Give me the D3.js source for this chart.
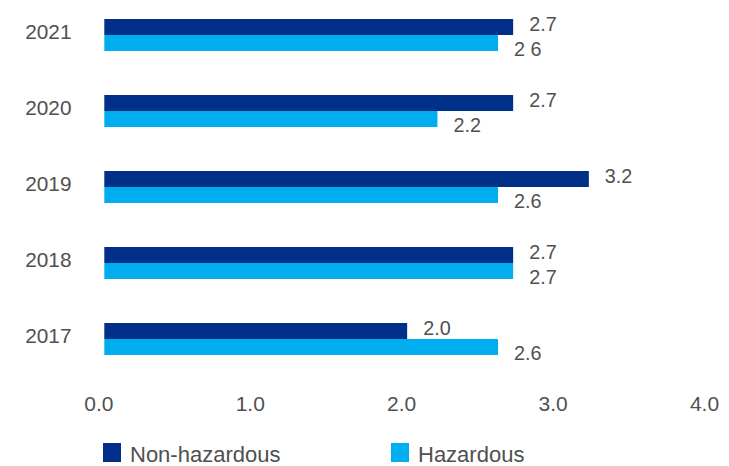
<!DOCTYPE html>
<html>
<head>
<meta charset="utf-8">
<script src="https://cdn.jsdelivr.net/npm/d3@7/dist/d3.min.js"></script>
<style>
  html, body { margin: 0; padding: 0; background: #fff; }
  svg { display: block; font-family: "Liberation Sans", Arial, Helvetica, sans-serif; }
</style>
</head>
<body>
<svg id="chart" width="729" height="466"></svg>
<script>
// Waste generated per year, by type
const years = ["2021", "2020", "2019", "2018", "2017"];
const seriesNames = ["Non-hazardous", "Hazardous"];
const nonHazardous = [2.7, 2.7, 3.2, 2.7, 2.0];
const hazardous = [2.6, 2.2, 2.6, 2.7, 2.6];
const nonHazardousLabels = ["2.7", "2.7", "3.2", "2.7", "2.0"];
const hazardousLabels = ["2 6", "2.2", "2.6", "2.7", "2.6"];
const xTicks = [0, 1, 2, 3, 4];

const colors = { "Non-hazardous": "#003087", "Hazardous": "#00AEEF" };
const textColor = "#505050";

const rows = years.map((year, i) => ({
  year,
  bars: [
    { name: "Non-hazardous", value: nonHazardous[i], label: nonHazardousLabels[i] },
    { name: "Hazardous", value: hazardous[i], label: hazardousLabels[i] }
  ]
}));

const svg = d3.select("#chart");

const x = d3.scaleLinear().domain([0, 4]).range([104.3, 710]);
const y = d3.scaleBand().domain(years).range([19, 355]).paddingInner(0.579).paddingOuter(0);
const ySub = d3.scaleBand().domain(seriesNames).range([0, y.bandwidth()]);

// year labels
svg.append("g")
  .selectAll("text")
  .data(rows)
  .join("text")
  .attr("x", 71.5)
  .attr("y", d => y(d.year) + y.bandwidth() / 2 + 4)
  .attr("text-anchor", "end")
  .attr("font-size", 20.8)
  .attr("fill", textColor)
  .text(d => d.year);

// bars
const groups = svg.append("g")
  .selectAll("g")
  .data(rows)
  .join("g")
  .attr("transform", d => `translate(0,${y(d.year)})`);

groups.selectAll("rect")
  .data(d => d.bars)
  .join("rect")
  .attr("x", x(0))
  .attr("y", d => ySub(d.name))
  .attr("width", d => x(d.value) - x(0))
  .attr("height", ySub.bandwidth())
  .attr("fill", d => colors[d.name]);

// value labels: dark bar label sits above, light bar label below
groups.selectAll("text")
  .data(d => d.bars)
  .join("text")
  .attr("x", d => x(d.value) + 16)
  .attr("y", d => ySub(d.name) + ySub.bandwidth() + (d.name === "Hazardous" ? 5.5 : -4.5))
  .attr("font-size", 19.8)
  .attr("fill", textColor)
  .text(d => d.label);

// x axis (labels only)
const xAxis = d3.axisBottom(x)
  .tickValues(xTicks)
  .tickFormat(d3.format(".1f"))
  .tickSize(0)
  .tickPadding(0);

const axisG = svg.append("g")
  .attr("transform", "translate(0,395)")
  .call(xAxis);
axisG.select(".domain").remove();
axisG.selectAll("text")
  .attr("font-family", "Liberation Sans, Arial, sans-serif")
  .attr("font-size", 21)
  .attr("fill", textColor)
  .attr("dx", -6)
  .attr("dy", 0)
  .attr("y", 15.5);

// legend
const legendX = [103, 391];
const legend = svg.append("g")
  .selectAll("g")
  .data(seriesNames)
  .join("g")
  .attr("transform", (d, i) => `translate(${legendX[i]},443)`);

legend.append("rect")
  .attr("width", 18)
  .attr("height", 19)
  .attr("fill", d => colors[d]);

legend.append("text")
  .attr("x", 27)
  .attr("y", 18.5)
  .attr("font-size", 22)
  .attr("fill", textColor)
  .text(d => d);
</script>
</body>
</html>
